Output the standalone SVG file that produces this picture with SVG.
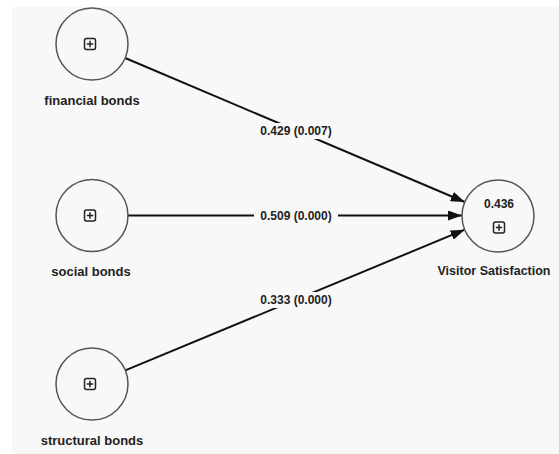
<svg xmlns="http://www.w3.org/2000/svg" width="559" height="454" viewBox="0 0 559 454">
<defs>
<marker id="arr" viewBox="0 0 14 10" refX="14" refY="5" markerWidth="14" markerHeight="10" markerUnits="userSpaceOnUse" orient="auto">
<path d="M0,0 L14,5 L0,10 Z" fill="#111"/>
</marker>
<g id="plus">
<rect x="-5.5" y="-5.5" width="11" height="11" rx="2" ry="2" fill="none" stroke="#222" stroke-width="1.5"/>
<path d="M-3.2,0 H3.2 M0,-3.2 V3.2" stroke="#222" stroke-width="1.5"/>
</g>
</defs>
<style>
.node{fill:none;stroke:#555;stroke-width:1.5}
.lbl{font-family:"Liberation Sans",Arial,sans-serif;font-weight:bold;font-size:13px;fill:#222;text-anchor:middle}
.elbl{font-family:"Liberation Sans",Arial,sans-serif;font-weight:bold;font-size:12px;fill:#222;text-anchor:middle}
.edge{stroke:#111;stroke-width:2;fill:none;marker-end:url(#arr)}
.lblbg{fill:#f8f8f8}
</style>
<rect x="0" y="0" width="559" height="454" fill="#ffffff"/>
<rect x="12" y="7" width="547" height="447" fill="#f8f8f8"/>
<g id="connectors">
<line class="edge" x1="125.2" y1="58" x2="464.8" y2="202"/>
<line class="edge" x1="128" y1="215.5" x2="462" y2="215.5"/>
<line class="edge" x1="125.3" y1="370.3" x2="464.7" y2="229.7"/>
<rect class="lblbg" x="254" y="123" width="84" height="16"/>
<text class="elbl" x="296" y="135">0.429 (0.007)</text>
<rect class="lblbg" x="254" y="208" width="84" height="16"/>
<text class="elbl" x="296" y="220">0.509 (0.000)</text>
<rect class="lblbg" x="254" y="292" width="84" height="16"/>
<text class="elbl" x="296" y="304">0.333 (0.000)</text>
</g>
<g id="financial-bonds">
<circle class="node" cx="92" cy="44" r="36"/>
<use href="#plus" x="90" y="44"/>
<text class="lbl" x="92" y="105">financial bonds</text>
</g>
<g id="social-bonds">
<circle class="node" cx="92" cy="215.5" r="36"/>
<use href="#plus" x="90" y="215.5"/>
<text class="lbl" x="91" y="276">social bonds</text>
</g>
<g id="structural-bonds">
<circle class="node" cx="92" cy="384" r="36"/>
<use href="#plus" x="90" y="384"/>
<text class="lbl" x="92" y="445">structural bonds</text>
</g>
<g id="visitor-satisfaction">
<circle class="node" cx="498" cy="216" r="36"/>
<text class="elbl" x="499" y="208">0.436</text>
<use href="#plus" x="499" y="227.5"/>
<text class="lbl" x="494" y="275" textLength="113" lengthAdjust="spacingAndGlyphs">Visitor Satisfaction</text>
</g>
</svg>
